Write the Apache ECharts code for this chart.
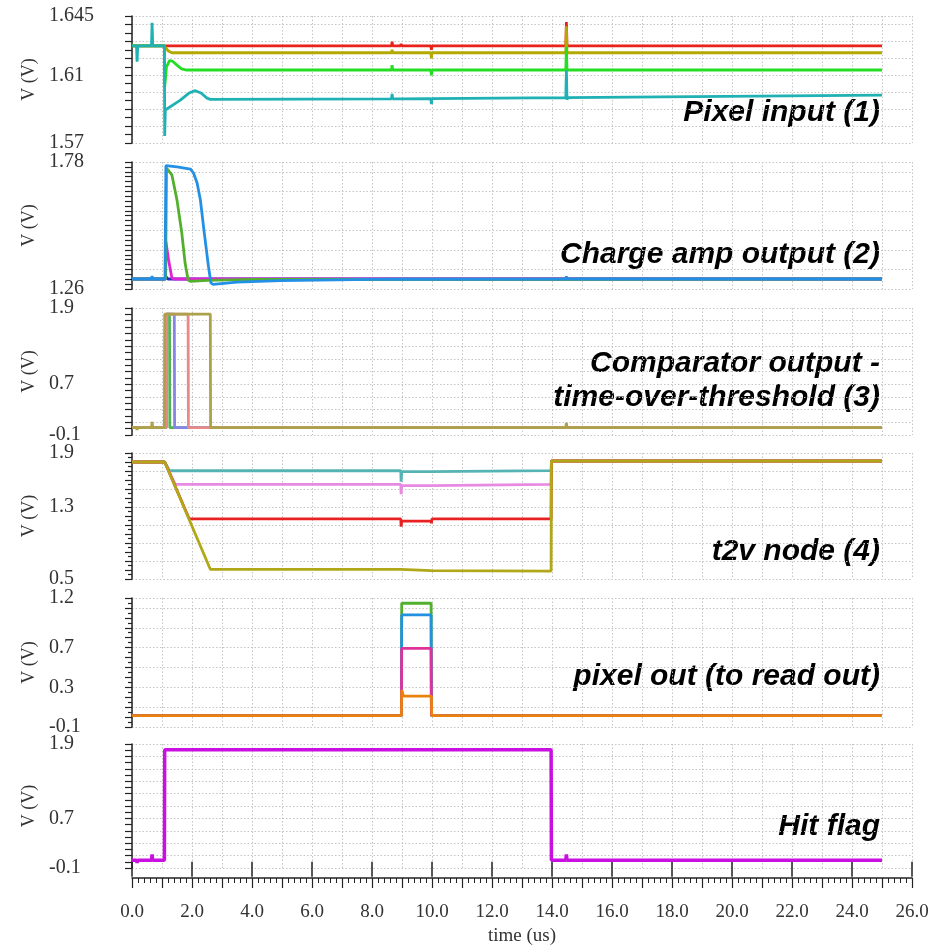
<!DOCTYPE html>
<html>
<head>
<meta charset="utf-8">
<script src="https://cdn.jsdelivr.net/npm/echarts@6/dist/echarts.min.js"></script>
<style>
html, body { margin: 0; padding: 0; background: #fff; }
#main { width: 937px; height: 947px; }
</style>
</head>
<body>
<div id="main"></div>
<script>
// ---- tick labels ----
var xLabelEvery = 2;
var yLabels1 = ['1.645', '1.61', '1.57'];
var yLabels2 = ['1.78', '1.26'];
var yLabels3 = ['1.9', '0.7', '-0.1'];
var yLabels4 = ['1.9', '1.3', '0.5'];
var yLabels5 = ['1.2', '0.7', '0.3', '-0.1'];
var yLabels6 = ['1.9', '0.7', '-0.1'];

// ---- (1) pixel input : [time us, V] ----
var pixRed = [[0, 1.6273], [1.08, 1.6273], [8.65, 1.6273], [8.67, 1.6298], [8.69, 1.6273], [8.95, 1.6273], [8.97, 1.6285], [8.99, 1.6273],
  [9.96, 1.6273], [9.98, 1.6250], [10.0, 1.6273], [14.46, 1.6273], [14.48, 1.6415], [14.5, 1.6273], [25, 1.6273]];
var pixOlive = [[0, 1.6273], [1.08, 1.6273], [1.2, 1.6245], [1.33, 1.6233], [8.65, 1.6233], [8.67, 1.6250], [8.69, 1.6233], [8.95, 1.6233],
  [8.97, 1.6240], [8.99, 1.6233], [9.96, 1.6233], [9.98, 1.6200], [10.0, 1.6233], [14.46, 1.6233], [14.48, 1.6390], [14.5, 1.6233], [25, 1.6233]];
var pixGreen = [[0, 1.6273], [1.08, 1.6273], [1.09, 1.6032], [1.15, 1.6150], [1.25, 1.6186], [1.35, 1.6183], [1.5, 1.6160], [1.65, 1.6138],
  [1.83, 1.6131], [8.65, 1.6131], [8.67, 1.6160], [8.69, 1.6131], [8.95, 1.6131], [8.97, 1.6142], [8.99, 1.6131], [9.96, 1.6131],
  [9.98, 1.6100], [10.0, 1.6131], [14.46, 1.6131], [14.48, 1.6270], [14.5, 1.6131], [25, 1.6131]];
var pixTeal = [[0, 1.6273], [0.15, 1.6273], [0.17, 1.6180], [0.19, 1.6273], [0.65, 1.6273], [0.67, 1.6410], [0.69, 1.6273], [1.08, 1.6273],
  [1.09, 1.5741], [1.11, 1.5895], [1.6, 1.5952], [1.9, 1.5995], [2.11, 1.6009], [2.3, 1.5995], [2.5, 1.5965], [2.61, 1.5958],
  [8.65, 1.5961], [8.67, 1.5990], [8.69, 1.5961], [8.95, 1.5961], [8.97, 1.5968], [8.99, 1.5961], [9.96, 1.5962], [9.98, 1.5930],
  [10.0, 1.5962], [14.46, 1.5968], [14.48, 1.6131], [14.5, 1.5955], [14.52, 1.5968], [25, 1.5983]];

// ---- (2) charge amp output ----
var ampNavy = [[0, 1.301], [1.1, 1.301], [1.13, 1.310], [1.2, 1.301], [25, 1.301]];
var ampMagenta = [[0, 1.301], [1.12, 1.301], [1.13, 1.454], [1.22, 1.379], [1.33, 1.305], [1.4, 1.301], [25, 1.301]];
var ampGreen = [[0, 1.301], [1.12, 1.301], [1.15, 1.755], [1.2, 1.755], [1.33, 1.727], [1.5, 1.624], [1.66, 1.489], [1.77, 1.366],
  [1.87, 1.297], [1.95, 1.291], [2.5, 1.295], [4, 1.299], [25, 1.301]];
var ampBlue = [[0, 1.301], [0.15, 1.301], [0.17, 1.296], [0.19, 1.301], [0.65, 1.301], [0.67, 1.313], [0.69, 1.301], [1.1, 1.301],
  [1.13, 1.765], [1.5, 1.760], [1.95, 1.751], [2.05, 1.735], [2.17, 1.694], [2.28, 1.624], [2.41, 1.489], [2.55, 1.351], [2.63, 1.285],
  [2.7, 1.279], [3.5, 1.288], [4.95, 1.294], [8, 1.299], [8.97, 1.300], [8.98, 1.303], [9.0, 1.300], [14.46, 1.301], [14.48, 1.312],
  [14.5, 1.301], [25, 1.301]];

// ---- (3) comparator output ----
var cmpGreen = [[0, 0.015], [1.14, 0.015], [1.15, 1.805], [1.25, 1.805], [1.26, 0.015], [25, 0.015]];
var cmpBlue = [[0, 0.015], [1.14, 0.015], [1.15, 1.805], [1.41, 1.805], [1.42, 0.015], [25, 0.015]];
var cmpSalmon = [[0, 0.015], [1.14, 0.015], [1.15, 1.805], [1.87, 1.805], [1.88, 0.015], [25, 0.015]];
var cmpOlive = [[0, 0.015], [0.15, 0.015], [0.17, -0.02], [0.19, 0.015], [0.65, 0.015], [0.67, 0.105], [0.69, 0.015], [1.08, 0.015],
  [1.09, 1.805], [2.61, 1.805], [2.62, 0.015], [14.46, 0.015], [14.48, 0.09], [14.5, 0.015], [25, 0.015]];

// ---- (4) t2v node ----
var t2vTeal = [[0, 1.80], [1.09, 1.80], [1.25, 1.703], [8.96, 1.703], [8.97, 1.581], [8.99, 1.692], [9.97, 1.692], [9.99, 1.705],
  [13.97, 1.705], [13.98, 1.811], [25, 1.811]];
var t2vPink = [[0, 1.80], [1.09, 1.80], [1.44, 1.552], [8.96, 1.552], [8.97, 1.441], [8.99, 1.537], [9.97, 1.537], [9.99, 1.552],
  [13.97, 1.552], [13.98, 1.811], [25, 1.811]];
var t2vRed = [[0, 1.80], [1.09, 1.80], [1.91, 1.167], [8.96, 1.167], [8.97, 1.081], [8.99, 1.144], [9.97, 1.144], [9.98, 1.119],
  [10.0, 1.167], [13.97, 1.167], [13.98, 1.811], [25, 1.811]];
var t2vOlive = [[0, 1.80], [1.09, 1.80], [2.61, 0.608], [8.96, 0.608], [8.98, 0.592], [9.97, 0.592], [9.98, 0.570], [10.0, 0.588],
  [13.97, 0.588], [13.98, 1.811], [25, 1.811]];

// ---- (5) pixel out ----
var outGreen = [[0, 0.014], [8.98, 0.014], [8.99, 1.147], [9.97, 1.147], [9.98, 0.014], [25, 0.014]];
var outBlue = [[0, 0.014], [8.98, 0.014], [8.99, 1.029], [9.97, 1.029], [9.98, 0.014], [25, 0.014]];
var outPink = [[0, 0.014], [8.98, 0.014], [8.99, 0.693], [9.97, 0.693], [9.98, 0.014], [25, 0.014]];
var outOrange = [[0, 0.014], [8.98, 0.014], [8.99, 0.273], [9.05, 0.212], [9.98, 0.212], [9.99, 0.014], [25, 0.014]];

// ---- (6) hit flag ----
var hitFlag = [[0, 0.025], [0.15, 0.025], [0.17, -0.017], [0.19, 0.025], [0.65, 0.025], [0.67, 0.12], [0.69, 0.025], [1.08, 0.025],
  [1.09, 1.806], [13.97, 1.806], [13.98, 0.025], [14.46, 0.025], [14.48, 0.12], [14.5, 0.025], [25, 0.025]];

var panels = [
  { top: 16, height: 127, min: 1.57, max: 1.645, tick: 0.005, minor: 0, gridStep: 0.01, labels: yLabels1,
    lines: [[pixRed, '#e8231c'], [pixOlive, '#b3a900'], [pixGreen, '#25dd25'], [pixTeal, '#1fb1b4']] },
  { top: 162, height: 127, min: 1.26, max: 1.78, tick: 0.02, minor: 0, gridStep: 0.08, labels: yLabels2,
    lines: [[ampNavy, '#2a2ac8'], [ampMagenta, '#e024d4'], [ampGreen, '#52b02e'], [ampBlue, '#2390e6']] },
  { top: 308, height: 127, min: -0.1, max: 1.9, tick: 0.1, minor: 0, gridStep: 0.2, labels: yLabels3,
    lines: [[cmpGreen, '#52b352'], [cmpBlue, '#8585e8'], [cmpSalmon, '#e88a8a'], [cmpOlive, '#aca24a']] },
  { top: 453, height: 126, min: 0.5, max: 1.9, tick: 0.1, minor: 2, gridStep: 0.2, labels: yLabels4,
    lines: [[t2vTeal, '#55b3b3'], [t2vPink, '#e88ae2'], [t2vRed, '#e82222'], [t2vOlive, '#b0a818']] },
  { top: 598, height: 129, min: -0.1, max: 1.2, tick: 0.1, minor: 2, gridStep: 0.2, labels: yLabels5,
    lines: [[outGreen, '#52b02e'], [outBlue, '#2390e0'], [outPink, '#e0309a'], [outOrange, '#e8820f']] },
  { top: 744, height: 128, min: -0.1, max: 1.9, tick: 0.1, minor: 0, gridStep: 0.2, labels: yLabels6,
    lines: [[hitFlag, '#c810e0']] }
];

var titles = [
  ['Pixel input (1)', 113],
  ['Charge amp output (2)', 255],
  ['Comparator output -', 364],
  ['time-over-threshold (3)', 398],
  ['t2v node (4)', 552],
  ['pixel out (to read out)', 677],
  ['Hit flag', 827]
];

var serif = 'Liberation Serif';
var dotted = { show: true, lineStyle: { color: '#c4c4c4', width: 1, type: [1.5, 2] } };

function labelFmt(list) {
  return function (v) {
    for (var i = 0; i < list.length; i++) {
      if (Math.abs(v - parseFloat(list[i])) < 1e-6) return list[i];
    }
    return '';
  };
}

var grids = [], xAxes = [], yAxes = [], series = [];
var last = panels.length - 1;

panels.forEach(function (p, i) {
  grids.push({ left: 132, width: 780, top: p.top, height: p.height });
  xAxes.push({
    type: 'value', gridIndex: i, min: 0, max: 26, interval: 1, position: 'bottom', offset: 10,
    axisLine: { show: i === last, onZero: false, lineStyle: { color: '#222', width: 1.5 } },
    axisTick: { show: i === last, length: 10, lineStyle: { color: '#222', width: 1.2 } },
    minorTick: { show: i === last, splitNumber: 5, length: 5, lineStyle: { color: '#222', width: 1 } },
    axisLabel: {
      show: i === last, margin: 25, fontFamily: serif, fontSize: 19, color: '#333',
      formatter: function (v) { return v % xLabelEvery === 0 ? v.toFixed(1) : ''; }
    },
    splitLine: dotted,
    name: i === last ? 'time (us)' : '',
    nameLocation: 'middle', nameGap: 49,
    nameTextStyle: { fontFamily: serif, fontSize: 19, color: '#333' }
  });
  yAxes.push({
    type: 'value', gridIndex: i, min: p.min, max: p.max, interval: p.tick, position: 'left', offset: 19,
    axisLine: { show: true, lineStyle: { color: '#222', width: 1.5 } },
    axisTick: { show: true, length: 7, lineStyle: { color: '#222', width: 1.2 } },
    minorTick: { show: p.minor > 0, splitNumber: p.minor || 5, length: 4, lineStyle: { color: '#222', width: 1.2 } },
    axisLabel: { margin: 64, align: 'left', fontFamily: serif, fontSize: 20, color: '#333', formatter: labelFmt(p.labels) },
    splitLine: { show: false },
    name: 'V (V)', nameLocation: 'middle', nameGap: 68,
    nameTextStyle: { fontFamily: serif, fontSize: 18, color: '#333' }
  });
  // hidden companion axis that only carries the dotted horizontal grid
  yAxes.push({
    type: 'value', gridIndex: i, min: 0, max: +(p.max - p.min).toFixed(4), interval: p.gridStep, position: 'left',
    axisLine: { show: false }, axisTick: { show: false }, axisLabel: { show: false },
    splitLine: dotted
  });
  p.lines.forEach(function (ln) {
    series.push({
      type: 'line', xAxisIndex: i, yAxisIndex: 2 * i, data: ln[0],
      showSymbol: false, symbol: 'none', silent: true,
      lineStyle: { color: ln[1], width: i === last ? 3.5 : 2.8 }
    });
  });
});

// long ticks at the labelled (even) times
xAxes.push({
  type: 'value', gridIndex: last, min: 0, max: 26, interval: 2, position: 'bottom', offset: 10,
  axisLine: { show: false }, axisLabel: { show: false }, splitLine: { show: false },
  axisTick: { show: true, length: 15, lineStyle: { color: '#222', width: 1.5 } }
});

var myChart = echarts.init(document.getElementById('main'));
myChart.setOption({
  animation: false,
  backgroundColor: '#fff',
  grid: grids,
  xAxis: xAxes,
  yAxis: yAxes,
  series: series,
  graphic: titles.map(function (t) {
    return {
      type: 'text', x: 880, y: t[1], silent: true,
      style: {
        text: t[0], fill: '#000', textAlign: 'right', textVerticalAlign: 'middle',
        font: 'italic bold 30px "Liberation Sans"'
      }
    };
  })
});
window.addEventListener('resize', function () {
  myChart.resize();
});
</script>
</body>
</html>
